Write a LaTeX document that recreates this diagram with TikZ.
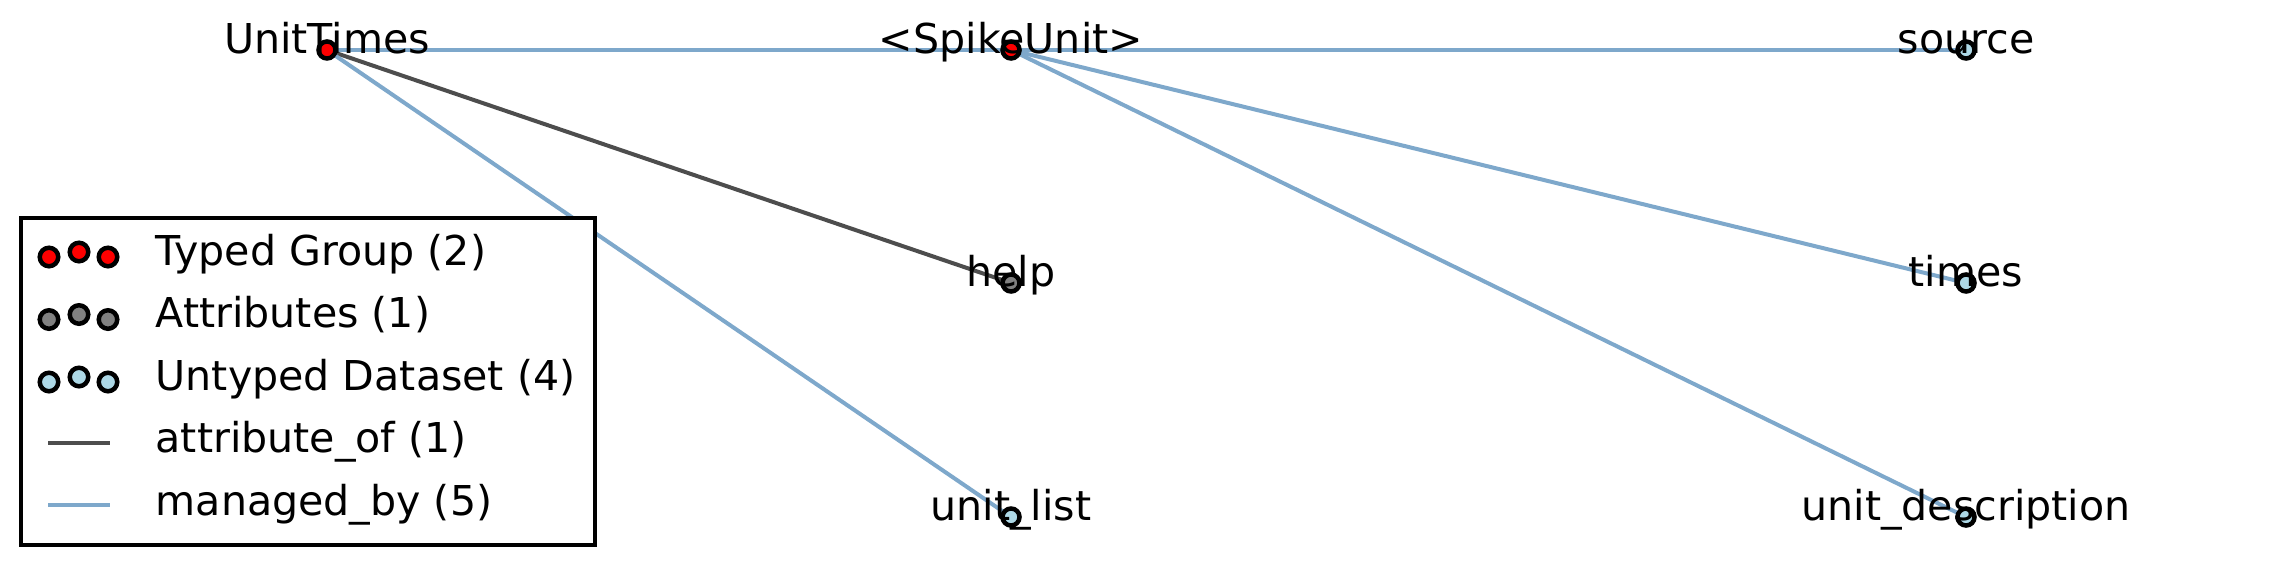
\documentclass[tikz,border=0pt]{standalone}
\usepackage{fontspec}
\setmainfont{DejaVu Sans}
\usepackage{xcolor}
\usetikzlibrary{backgrounds}
\definecolor{EdgeBlue}{RGB}{126,168,203}
\definecolor{EdgeDark}{RGB}{77,77,77}
\definecolor{TypedRed}{RGB}{255,0,0}
\definecolor{AttrGray}{RGB}{128,128,128}
\definecolor{DataBlue}{RGB}{173,216,230}
\tikzset{
  % Nodi del grafo
  dot/.style={circle,draw=black,line width=0.045cm,minimum size=0.17cm,inner sep=0},
  dot typed/.style={dot,fill=TypedRed},
  dot attr/.style={dot,fill=AttrGray},
  dot untyped/.style={dot,fill=DataBlue},
  % Etichette
  lbl/.style={font=\fontsize{11.7pt}{14pt}\selectfont,inner sep=0,anchor=base},
  % Connessioni
  connect attr/.style={line width=0.04cm,EdgeDark},
  connect managed/.style={line width=0.04cm,EdgeBlue},
  % Legenda
  legend box/.style={draw=black,fill=white,line width=0.035cm,minimum width=5.74cm,minimum height=3.27cm,inner sep=0}
}
\begin{document}
\begin{tikzpicture}[x=0.01cm,y=-0.01cm]
    \useasboundingbox (0,0) rectangle (2292,567);
    \node[dot typed] (ut) at (327,50) {};
    \node[dot typed] (su) at (1011,50) {};
    \node[dot untyped] (src) at (1966,50) {};
    \node[dot attr] (hlp) at (1011,283) {};
    \node[dot untyped] (tms) at (1966,283) {};
    \node[dot untyped] (ulist) at (1011,517) {};
    \node[dot untyped] (udesc) at (1966,517) {};
    \begin{scope}[on background layer]
      \draw[connect managed] (ut.center) -- (su.center);
      \draw[connect attr] (ut.center) -- (hlp.center);
      \draw[connect managed] (ut.center) -- (ulist.center);
      \draw[connect managed] (su.center) -- (src.center);
      \draw[connect managed] (su.center) -- (tms.center);
      \draw[connect managed] (su.center) -- (udesc.center);
    \end{scope}
    \node[lbl] (ut-t) at ([yshift=-0.035cm]ut.center) {UnitTimes};
    \node[lbl] (su-t) at ([yshift=-0.035cm]su.center) {<SpikeUnit>};
    \node[lbl] (src-t) at ([yshift=-0.035cm]src.center) {source};
    \node[lbl] (hlp-t) at ([yshift=-0.035cm]hlp.center) {help};
    \node[lbl] (tms-t) at ([yshift=-0.035cm]tms.center) {times};
    \node[lbl] (ulist-t) at ([yshift=-0.035cm]ulist.center) {unit\_list};
    \node[lbl] (udesc-t) at ([yshift=-0.035cm]udesc.center) {unit\_description};
    % legenda
    \node[legend box] (lgd) at (308,381.5) {};
    \foreach \k/\r in {typed/255,attr/317.5,untyped/380} {
      \node[dot \k,minimum size=0.185cm] (mk-\k-a) at (49,\r+2) {};
      \node[dot \k,minimum size=0.185cm] (mk-\k-b) at (79,\r-3) {};
      \node[dot \k,minimum size=0.185cm] (mk-\k-c) at (108,\r+2) {};
    }
    \draw[connect attr] (48,442.5) -- (110,442.5);
    \draw[connect managed] (48,505) -- (110,505);
    \node[lbl,anchor=base west] (lt-typed) at (155,265) {Typed Group (2)};
    \node[lbl,anchor=base west] (lt-attr) at (155,327.5) {Attributes (1)};
    \node[lbl,anchor=base west] (lt-untyped) at (155,390) {Untyped Dataset (4)};
    \node[lbl,anchor=base west] (lt-attrof) at (155,452.5) {attribute\_of (1)};
    \node[lbl,anchor=base west] (lt-managed) at (155,515) {managed\_by (5)};
\end{tikzpicture}
\end{document}
